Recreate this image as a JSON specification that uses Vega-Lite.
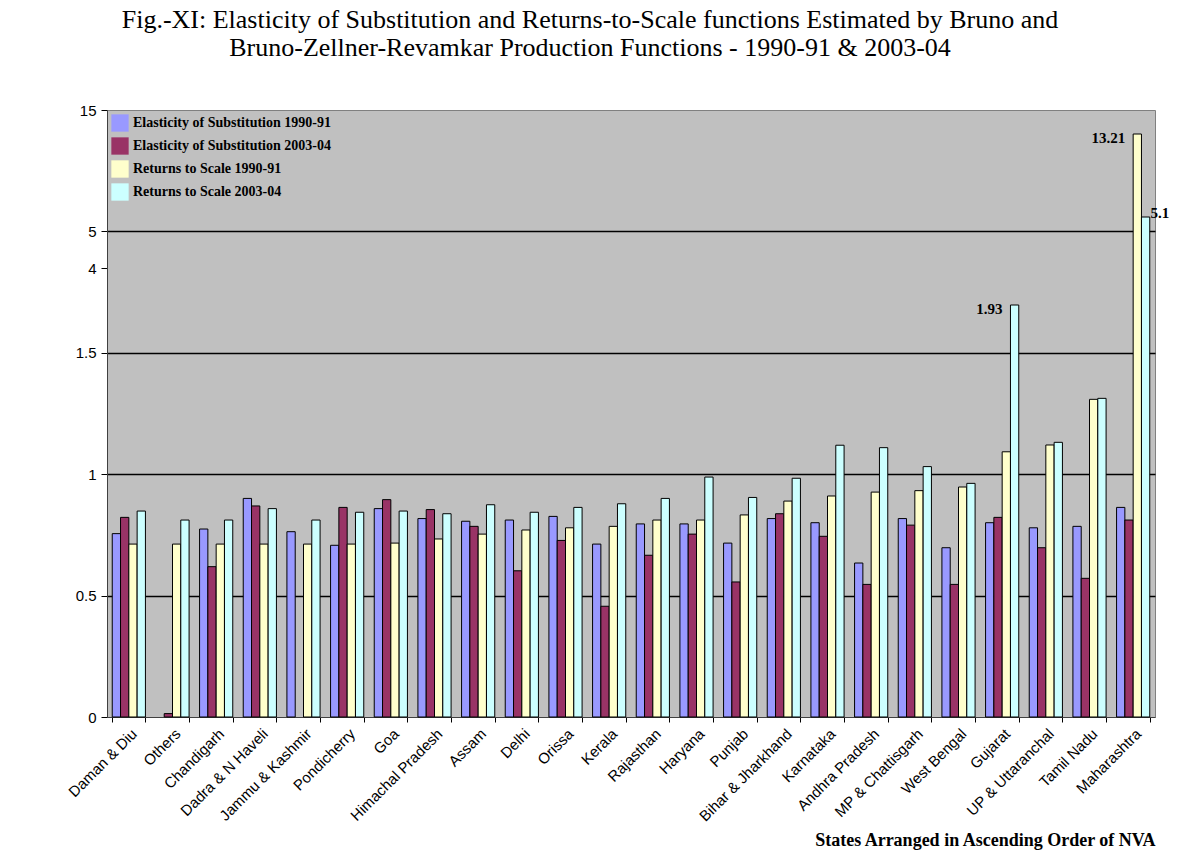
{
  "$schema": "https://vega.github.io/schema/vega-lite/v6.json",
  "autosize": {"type": "none"},
  "padding": {"left": 107, "top": 110, "right": 25, "bottom": 143},
  "width": 1048,
  "height": 607,
  "background": "#ffffff",
  "title": {
    "text": ["Fig.-XI: Elasticity of Substitution and Returns-to-Scale functions Estimated by Bruno and", "Bruno-Zellner-Revamkar Production Functions - 1990-91 & 2003-04"],
    "font": "Liberation Serif",
    "fontSize": 26,
    "fontWeight": "normal",
    "color": "#000000",
    "lineHeight": 28,
    "anchor": "middle",
    "dx": -41,
    "offset": 42
  },
  "config": {
    "view": {"fill": "#C0C0C0", "stroke": "#808080", "strokeWidth": 1},
    "axis": {"labelColor": "#000000", "tickColor": "#000000", "domainColor": "#404040"}
  },
  "data": {
    "values": [
      {"state": "Daman & Diu", "series": "Elasticity of Substitution 1990-91", "value": 0.755},
      {"state": "Daman & Diu", "series": "Elasticity of Substitution 2003-04", "value": 0.822},
      {"state": "Daman & Diu", "series": "Returns to Scale 1990-91", "value": 0.712},
      {"state": "Daman & Diu", "series": "Returns to Scale 2003-04", "value": 0.848},
      {"state": "Others", "series": "Elasticity of Substitution 2003-04", "value": 0.014},
      {"state": "Others", "series": "Returns to Scale 1990-91", "value": 0.712},
      {"state": "Others", "series": "Returns to Scale 2003-04", "value": 0.811},
      {"state": "Chandigarh", "series": "Elasticity of Substitution 1990-91", "value": 0.774},
      {"state": "Chandigarh", "series": "Elasticity of Substitution 2003-04", "value": 0.619},
      {"state": "Chandigarh", "series": "Returns to Scale 1990-91", "value": 0.712},
      {"state": "Chandigarh", "series": "Returns to Scale 2003-04", "value": 0.811},
      {"state": "Dadra & N Haveli", "series": "Elasticity of Substitution 1990-91", "value": 0.900},
      {"state": "Dadra & N Haveli", "series": "Elasticity of Substitution 2003-04", "value": 0.869},
      {"state": "Dadra & N Haveli", "series": "Returns to Scale 1990-91", "value": 0.712},
      {"state": "Dadra & N Haveli", "series": "Returns to Scale 2003-04", "value": 0.858},
      {"state": "Jammu & Kashmir", "series": "Elasticity of Substitution 1990-91", "value": 0.763},
      {"state": "Jammu & Kashmir", "series": "Returns to Scale 1990-91", "value": 0.712},
      {"state": "Jammu & Kashmir", "series": "Returns to Scale 2003-04", "value": 0.811},
      {"state": "Pondicherry", "series": "Elasticity of Substitution 1990-91", "value": 0.707},
      {"state": "Pondicherry", "series": "Elasticity of Substitution 2003-04", "value": 0.863},
      {"state": "Pondicherry", "series": "Returns to Scale 1990-91", "value": 0.712},
      {"state": "Pondicherry", "series": "Returns to Scale 2003-04", "value": 0.843},
      {"state": "Goa", "series": "Elasticity of Substitution 1990-91", "value": 0.858},
      {"state": "Goa", "series": "Elasticity of Substitution 2003-04", "value": 0.895},
      {"state": "Goa", "series": "Returns to Scale 1990-91", "value": 0.716},
      {"state": "Goa", "series": "Returns to Scale 2003-04", "value": 0.848},
      {"state": "Himachal Pradesh", "series": "Elasticity of Substitution 1990-91", "value": 0.817},
      {"state": "Himachal Pradesh", "series": "Elasticity of Substitution 2003-04", "value": 0.854},
      {"state": "Himachal Pradesh", "series": "Returns to Scale 1990-91", "value": 0.733},
      {"state": "Himachal Pradesh", "series": "Returns to Scale 2003-04", "value": 0.837},
      {"state": "Assam", "series": "Elasticity of Substitution 1990-91", "value": 0.806},
      {"state": "Assam", "series": "Elasticity of Substitution 2003-04", "value": 0.785},
      {"state": "Assam", "series": "Returns to Scale 1990-91", "value": 0.753},
      {"state": "Assam", "series": "Returns to Scale 2003-04", "value": 0.874},
      {"state": "Delhi", "series": "Elasticity of Substitution 1990-91", "value": 0.811},
      {"state": "Delhi", "series": "Elasticity of Substitution 2003-04", "value": 0.602},
      {"state": "Delhi", "series": "Returns to Scale 1990-91", "value": 0.770},
      {"state": "Delhi", "series": "Returns to Scale 2003-04", "value": 0.843},
      {"state": "Orissa", "series": "Elasticity of Substitution 1990-91", "value": 0.826},
      {"state": "Orissa", "series": "Elasticity of Substitution 2003-04", "value": 0.727},
      {"state": "Orissa", "series": "Returns to Scale 1990-91", "value": 0.779},
      {"state": "Orissa", "series": "Returns to Scale 2003-04", "value": 0.863},
      {"state": "Kerala", "series": "Elasticity of Substitution 1990-91", "value": 0.712},
      {"state": "Kerala", "series": "Elasticity of Substitution 2003-04", "value": 0.456},
      {"state": "Kerala", "series": "Returns to Scale 1990-91", "value": 0.785},
      {"state": "Kerala", "series": "Returns to Scale 2003-04", "value": 0.878},
      {"state": "Rajasthan", "series": "Elasticity of Substitution 1990-91", "value": 0.795},
      {"state": "Rajasthan", "series": "Elasticity of Substitution 2003-04", "value": 0.666},
      {"state": "Rajasthan", "series": "Returns to Scale 1990-91", "value": 0.811},
      {"state": "Rajasthan", "series": "Returns to Scale 2003-04", "value": 0.900},
      {"state": "Haryana", "series": "Elasticity of Substitution 1990-91", "value": 0.795},
      {"state": "Haryana", "series": "Elasticity of Substitution 2003-04", "value": 0.753},
      {"state": "Haryana", "series": "Returns to Scale 1990-91", "value": 0.811},
      {"state": "Haryana", "series": "Returns to Scale 2003-04", "value": 0.988},
      {"state": "Punjab", "series": "Elasticity of Substitution 1990-91", "value": 0.716},
      {"state": "Punjab", "series": "Elasticity of Substitution 2003-04", "value": 0.556},
      {"state": "Punjab", "series": "Returns to Scale 1990-91", "value": 0.832},
      {"state": "Punjab", "series": "Returns to Scale 2003-04", "value": 0.904},
      {"state": "Bihar & Jharkhand", "series": "Elasticity of Substitution 1990-91", "value": 0.817},
      {"state": "Bihar & Jharkhand", "series": "Elasticity of Substitution 2003-04", "value": 0.837},
      {"state": "Bihar & Jharkhand", "series": "Returns to Scale 1990-91", "value": 0.889},
      {"state": "Bihar & Jharkhand", "series": "Returns to Scale 2003-04", "value": 0.983},
      {"state": "Karnataka", "series": "Elasticity of Substitution 1990-91", "value": 0.800},
      {"state": "Karnataka", "series": "Elasticity of Substitution 2003-04", "value": 0.744},
      {"state": "Karnataka", "series": "Returns to Scale 1990-91", "value": 0.910},
      {"state": "Karnataka", "series": "Returns to Scale 2003-04", "value": 1.119},
      {"state": "Andhra Pradesh", "series": "Elasticity of Substitution 1990-91", "value": 0.634},
      {"state": "Andhra Pradesh", "series": "Elasticity of Substitution 2003-04", "value": 0.546},
      {"state": "Andhra Pradesh", "series": "Returns to Scale 1990-91", "value": 0.926},
      {"state": "Andhra Pradesh", "series": "Returns to Scale 2003-04", "value": 1.109},
      {"state": "MP & Chattisgarh", "series": "Elasticity of Substitution 1990-91", "value": 0.817},
      {"state": "MP & Chattisgarh", "series": "Elasticity of Substitution 2003-04", "value": 0.790},
      {"state": "MP & Chattisgarh", "series": "Returns to Scale 1990-91", "value": 0.932},
      {"state": "MP & Chattisgarh", "series": "Returns to Scale 2003-04", "value": 1.031},
      {"state": "West Bengal", "series": "Elasticity of Substitution 1990-91", "value": 0.697},
      {"state": "West Bengal", "series": "Elasticity of Substitution 2003-04", "value": 0.546},
      {"state": "West Bengal", "series": "Returns to Scale 1990-91", "value": 0.947},
      {"state": "West Bengal", "series": "Returns to Scale 2003-04", "value": 0.962},
      {"state": "Gujarat", "series": "Elasticity of Substitution 1990-91", "value": 0.800},
      {"state": "Gujarat", "series": "Elasticity of Substitution 2003-04", "value": 0.822},
      {"state": "Gujarat", "series": "Returns to Scale 1990-91", "value": 1.092},
      {"state": "Gujarat", "series": "Returns to Scale 2003-04", "value": 1.93},
      {"state": "UP & Uttaranchal", "series": "Elasticity of Substitution 1990-91", "value": 0.779},
      {"state": "UP & Uttaranchal", "series": "Elasticity of Substitution 2003-04", "value": 0.697},
      {"state": "UP & Uttaranchal", "series": "Returns to Scale 1990-91", "value": 1.120},
      {"state": "UP & Uttaranchal", "series": "Returns to Scale 2003-04", "value": 1.131},
      {"state": "Tamil Nadu", "series": "Elasticity of Substitution 1990-91", "value": 0.785},
      {"state": "Tamil Nadu", "series": "Elasticity of Substitution 2003-04", "value": 0.571},
      {"state": "Tamil Nadu", "series": "Returns to Scale 1990-91", "value": 1.308},
      {"state": "Tamil Nadu", "series": "Returns to Scale 2003-04", "value": 1.312},
      {"state": "Maharashtra", "series": "Elasticity of Substitution 1990-91", "value": 0.863},
      {"state": "Maharashtra", "series": "Elasticity of Substitution 2003-04", "value": 0.811},
      {"state": "Maharashtra", "series": "Returns to Scale 1990-91", "value": 13.21},
      {"state": "Maharashtra", "series": "Returns to Scale 2003-04", "value": 5.1}
    ]
  },
  "encoding": {
    "x": {
      "field": "state",
      "type": "nominal",
      "sort": null,
      "scale": {"paddingInner": 0.24, "paddingOuter": 0.12},
      "axis": {
        "title": "States Arranged in Ascending Order of NVA",
        "titleFont": "Liberation Serif",
        "titleFontSize": 18,
        "titleFontWeight": "bold",
        "titleColor": "#000000",
        "titleAnchor": "end",
        "titlePadding": 8,
        "labelAngle": -45,
        "labelFont": "Liberation Sans",
        "labelFontSize": 15,
        "labelPadding": 4,
        "tickBand": "extent",
        "tickSize": 5,
        "domainColor": "#404040",
        "labelOverlap": false
      }
    },
    "y": {
      "field": "value",
      "type": "quantitative",
      "scale": {
        "domain": [0, 1.5, 1.93, 4, 5, 5.1, 13.21, 15],
        "range": [607, 242.7, 195, 158, 121, 107, 24, 0],
        "nice": false,
        "zero": false
      },
      "axis": {
        "title": null,
        "values": [0, 0.5, 1, 1.5, 4, 5, 15],
        "format": "~g",
        "labelFont": "Liberation Sans",
        "labelFontSize": 15,
        "labelPadding": 5,
        "tickSize": 6,
        "grid": true,
        "gridColor": "#000000",
        "gridWidth": 1.3,
        "gridOpacity": {"condition": {"test": "datum.value === 4 || datum.value === 15 || datum.value === 0", "value": 0}, "value": 1},
        "domainColor": "#404040"
      }
    }
  },
  "layer": [
    {
      "mark": {"type": "bar", "stroke": "#000000", "strokeWidth": 1},
      "encoding": {
        "xOffset": {"field": "series", "type": "nominal", "sort": ["Elasticity of Substitution 1990-91", "Elasticity of Substitution 2003-04", "Returns to Scale 1990-91", "Returns to Scale 2003-04"]},
        "fill": {
          "field": "series",
          "type": "nominal",
          "scale": {
            "domain": ["Elasticity of Substitution 1990-91", "Elasticity of Substitution 2003-04", "Returns to Scale 1990-91", "Returns to Scale 2003-04"],
            "range": ["#9999FF", "#993366", "#FFFFCC", "#CCFFFF"]
          },
          "legend": {
            "title": null,
            "orient": "none",
            "legendX": 4,
            "legendY": 4,
            "symbolType": "square",
            "symbolSize": 300,
            "symbolStrokeWidth": 0,
            "labelFont": "Liberation Serif",
            "labelFontSize": 14,
            "labelFontWeight": "bold",
            "labelColor": "#000000",
            "labelLimit": 400,
            "rowPadding": 5,
            "padding": 0
          }
        }
      }
    },
    {
      "transform": [{"filter": "datum.value > 1.5 && datum.value !== 5.1"}],
      "mark": {"type": "text", "align": "right", "baseline": "middle", "dx": -12, "dy": 4, "font": "Liberation Serif", "fontSize": 15, "fontWeight": "bold", "color": "#000000"},
      "encoding": {
        "xOffset": {"field": "series", "type": "nominal", "sort": ["Elasticity of Substitution 1990-91", "Elasticity of Substitution 2003-04", "Returns to Scale 1990-91", "Returns to Scale 2003-04"]},
        "text": {"field": "value", "type": "quantitative", "format": "~g"}
      }
    },
    {
      "transform": [{"filter": "datum.value === 5.1"}],
      "mark": {"type": "text", "align": "left", "baseline": "middle", "dx": 5, "dy": -4, "font": "Liberation Serif", "fontSize": 15, "fontWeight": "bold", "color": "#000000"},
      "encoding": {
        "xOffset": {"field": "series", "type": "nominal", "sort": ["Elasticity of Substitution 1990-91", "Elasticity of Substitution 2003-04", "Returns to Scale 1990-91", "Returns to Scale 2003-04"]},
        "text": {"field": "value", "type": "quantitative", "format": "~g"}
      }
    }
  ]
}
